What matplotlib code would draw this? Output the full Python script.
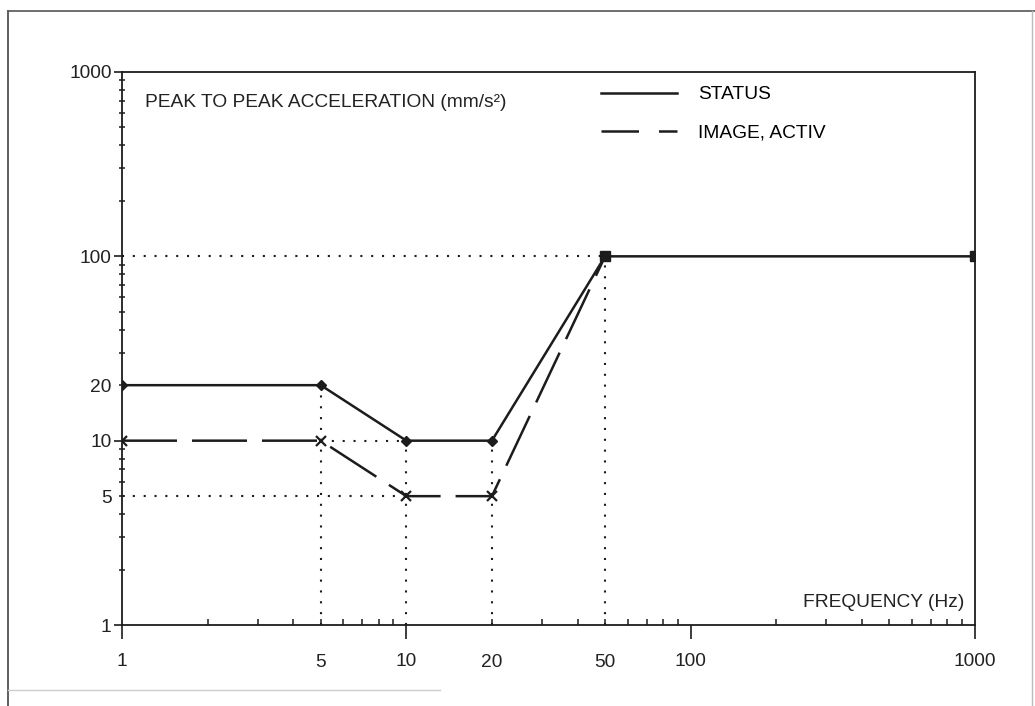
import matplotlib
matplotlib.use("Agg")
import matplotlib.pyplot as plt
from matplotlib.lines import Line2D
from matplotlib.ticker import FixedLocator, FuncFormatter

plt.rcParams['font.family'] = ['Liberation Sans', 'DejaVu Sans']

# data
freq_status = [1, 5, 10, 20, 50, 1000]
accel_status = [20, 20, 10, 10, 100, 100]
freq_image = [1, 5, 10, 20, 50]
accel_image = [10, 10, 5, 5, 100]

# dotted guides: (x, y top) and (y, x from, x to)
guide_v = [(5, 20), (10, 10), (20, 10), (50, 100)]
guide_h = [(100, 1, 50), (10, 5, 10), (5, 1, 10)]

x_major = [1, 10, 100, 1000]
x_minor_labels = [5, 20, 50]
y_major = [1, 10, 100, 1000]
y_minor_labels = [5, 20]

title_text = "PEAK TO PEAK ACCELERATION (mm/s\u00b2)"
xlabel_text = "FREQUENCY (Hz)"
legend_labels = ["STATUS", "IMAGE, ACTIV"]

ink = '#1c1c1c'
fs = 13.8
W, H = 1035, 706
fig = plt.figure(figsize=(W / 100, H / 100), dpi=100)
ax = fig.add_axes([122 / W, 1 - 625 / H, (975 - 122) / W, (625 - 72) / H])
ax.set_xscale('log')
ax.set_yscale('log')
ax.set_xlim(1, 1000)
ax.set_ylim(1, 1000)

dot = dict(color=ink, lw=1.5, linestyle=(0, (1, 4.2)), zorder=1)
for x, y in guide_v:
    ax.plot([x, x], [1, y], **dot)
for y, x0, x1 in guide_h:
    ax.plot([x0, x1], [y, y], **dot)

# curves
ax.plot(freq_status, accel_status, color=ink, lw=1.8, zorder=3)
ax.plot(freq_status[:4], accel_status[:4], 'D', color=ink, ms=5, zorder=4)
ax.plot(freq_status[4:], accel_status[4:], 's', color=ink, ms=7, zorder=4)
ax.plot(freq_image, accel_image, color=ink, lw=1.8, linestyle=(0, (22, 6)), zorder=3)
ax.plot(freq_image[:4], accel_image[:4], 'x', color=ink, ms=6.5, mew=1.6, zorder=4)

# ticks
minor_pos = [m * d for d in (1, 10, 100) for m in range(2, 10)]
ax.xaxis.set_major_locator(FixedLocator(x_major))
ax.xaxis.set_minor_locator(FixedLocator(minor_pos))
ax.yaxis.set_major_locator(FixedLocator(y_major))
ax.yaxis.set_minor_locator(FixedLocator(minor_pos))
ax.xaxis.set_major_formatter(FuncFormatter(lambda v, p: '%g' % v))
ax.yaxis.set_major_formatter(FuncFormatter(lambda v, p: '%g' % v))
ax.xaxis.set_minor_formatter(FuncFormatter(
    lambda v, p: '%g' % v if round(v) in x_minor_labels else ''))
ax.yaxis.set_minor_formatter(FuncFormatter(
    lambda v, p: '%g' % v if round(v) in y_minor_labels else ''))

ax.tick_params(axis='both', which='both', colors=ink, labelcolor='#222222', labelsize=fs)
ax.tick_params(axis='x', which='major', direction='out', length=10, width=1.2, pad=10)
ax.tick_params(axis='x', which='minor', direction='in', length=4, width=1.1, pad=21)
ax.tick_params(axis='y', which='major', direction='out', length=6, width=1.2, pad=1.5)
ax.tick_params(axis='y', which='minor', direction='inout', length=5, width=1.1, pad=5)

for s in ax.spines.values():
    s.set_color(ink)
    s.set_linewidth(1.3)

ax.text(0.027, 0.944, title_text, transform=ax.transAxes, fontsize=fs,
        color='#222222', va='center', ha='left')
ax.text(0.988, 0.040, xlabel_text, transform=ax.transAxes, fontsize=fs,
        color='#222222', va='center', ha='right')

handles = [Line2D([], [], color=ink, lw=1.8),
           Line2D([], [], color=ink, lw=1.8, linestyle=(0, (15, 8)))]
ax.legend(handles, legend_labels, loc='upper left', bbox_to_anchor=(0.561, 0.975),
          frameon=False, fontsize=fs, handlelength=4.0, handletextpad=1.1,
          labelspacing=1.1, borderpad=0, borderaxespad=0)

# scanned page border
fig.add_artist(Line2D([8 / W, 8 / W], [0, 1 - 11 / H], color='#444444', lw=1.2))
fig.add_artist(Line2D([8 / W, 1], [1 - 11 / H, 1 - 11 / H], color='#555555', lw=1.2))
fig.add_artist(Line2D([1032 / W, 1032 / W], [0, 1 - 11 / H], color='#bbbbbb', lw=1.0))
fig.add_artist(Line2D([8 / W, 440 / W], [1 - 690 / H, 1 - 690 / H], color='#cccccc', lw=1.0))

fig.savefig('out.png', dpi=100)
